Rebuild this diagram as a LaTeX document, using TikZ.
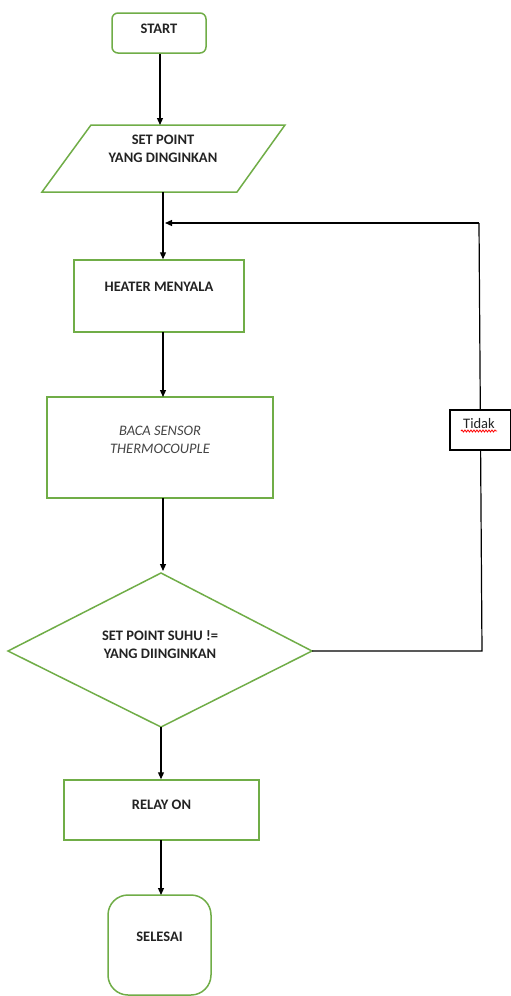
\documentclass[tikz,border=0pt]{standalone}
\usepackage{fontspec}
\setmainfont{Carlito}
\usetikzlibrary{arrows.meta,decorations.pathmorphing}
\definecolor{boxgreen}{RGB}{112,173,71}
\definecolor{txt}{RGB}{35,35,35}
\tikzset{
  greenbox/.style={draw=boxgreen, line width=1.5pt, fill=white, inner sep=0pt},
  lbl/.style={text=txt, font=\fontsize{14.5}{18}\selectfont\bfseries, align=center, inner sep=0pt},
  ilbl/.style={text=txt!85, font=\fontsize{14.5}{18}\selectfont\itshape, align=center, inner sep=0pt},
  flow/.style={draw=black, line width=1.2pt, -{Triangle[length=7pt,width=6pt]}},
  plain/.style={draw=black, line width=1.2pt}
}
\begin{document}
\begin{tikzpicture}[x=1pt,y=-1pt]
\useasboundingbox[fill=white] (0,0) rectangle (511,996);
% START
\node[greenbox, rounded corners=6pt, minimum width=94pt, minimum height=40pt] (start) at (159,33) {};
\node[lbl] (tstart) at (159,29) {START};
% parallelogram
\draw[draw=boxgreen, line width=1.5pt] (91,125) -- (285,125) -- (237,192) -- (42,192) -- cycle;
\coordinate (paraT) at (160,125);
\coordinate (paraB) at (163,192);
\node[lbl] (tpara) at (163,149) {SET POINT\\YANG DINGINKAN};
% heater
\node[greenbox, minimum width=170pt, minimum height=72pt] (heater) at (159,296) {};
\node[lbl] (theater) at (159,287) {HEATER MENYALA};
% baca
\node[greenbox, minimum width=226pt, minimum height=101pt] (baca) at (160,447.5) {};
\node[ilbl] (tbaca) at (160,440) {BACA SENSOR\\THERMOCOUPLE};
% diamond
\coordinate (dT) at (161,573);
\coordinate (dL) at (8,651);
\coordinate (dR) at (312,651);
\coordinate (dB) at (161,727);
\draw[draw=boxgreen, line width=1.5pt] (dT) -- (dR) -- (dB) -- (dL) -- cycle;
\node[lbl] (tdia) at (160,645) {SET POINT SUHU !=\\YANG DIINGINKAN};
% relay
\node[greenbox, minimum width=195pt, minimum height=60pt] (relay) at (161.5,810) {};
\node[lbl] (trelay) at (161.5,805) {RELAY ON};
% selesai
\node[greenbox, rounded corners=20pt, minimum width=103pt, minimum height=100pt] (selesai) at (159.5,945) {};
\node[lbl] (tselesai) at (159.5,937) {SELESAI};
% feedback corners
\coordinate (c1) at (482,651);
\coordinate (c2) at (479,223);
\coordinate (join) at (163,223);
% connectors
\draw[flow] (start.south -| 160,0) -- (paraT);
\draw[flow] (paraB) -- (paraB |- heater.north);
\draw[flow] (163,332) -- (163,397);
\draw[flow] (163,498) -- (163,571);
\draw[flow] (dB) -- (dB |- relay.north);
\draw[flow] (161,840) -- (161,895);
\draw[plain] (dR) -- (c1) -- (c2);
\draw[flow] (c2) -- ([xshift=2pt]join);
% Tidak
\node[draw=black, line width=1.2pt, fill=white, minimum width=61pt, minimum height=40pt, inner sep=0pt] (tidak) at (480.5,430) {};
\node[text=txt, font=\fontsize{14.5}{18}\selectfont, inner sep=0pt] (ttidak) at (479,424) {Tidak};
\draw[red, line width=0.8pt, decorate, decoration={snake, amplitude=1pt, segment length=3pt}] (461,431) -- (497,431);
\end{tikzpicture}
\end{document}
